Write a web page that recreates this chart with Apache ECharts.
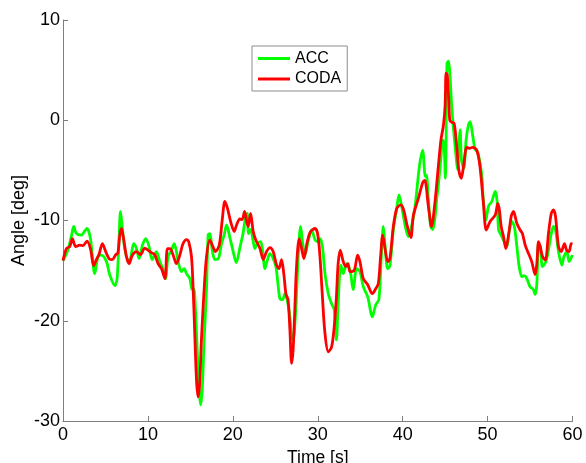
<!DOCTYPE html>
<html>
<head>
<meta charset="utf-8">
<script src="https://cdn.jsdelivr.net/npm/echarts@6/dist/echarts.min.js"></script>
<style>
  html, body { margin: 0; padding: 0; background: #ffffff; }
  #chart { width: 586px; height: 463px; }
</style>
</head>
<body>
<div id="chart"></div>
<script>
// Sensor comparison: angle over time from the accelerometer (ACC) and the CODA motion system
const seriesNames = ['ACC', 'CODA'];

const accTime = [
  0.0, 0.3, 0.6, 1.0, 1.26, 1.58, 2.17, 2.6, 2.83, 3.23, 3.74, 4.13, 4.53, 5.12, 5.5, 6.1, 6.37, 6.6, 6.77, 7.0,
  7.27, 7.67, 7.94, 8.33, 8.65, 8.96, 9.36, 9.75, 10.1, 10.5, 11.0, 11.4, 11.8, 12.07, 12.38, 12.78, 13.09, 13.36, 13.56, 13.95,
  14.26, 14.55, 14.94, 15.2, 15.4, 15.6, 15.84, 16.03, 16.2, 16.4, 16.62, 16.9, 17.09, 17.3, 17.57, 17.9, 18.3, 18.67, 18.98, 19.26,
  19.65, 20.04, 20.4, 20.83, 21.2, 21.54, 21.7, 21.85, 22.1, 22.4, 22.6, 22.87, 23.27, 23.5, 23.78, 24.05, 24.37, 24.75, 25.07, 25.35,
  25.55, 25.86, 26.13, 26.4, 26.72, 26.92, 27.1, 27.43, 27.7, 27.98, 28.25, 28.49, 28.9, 29.28, 29.67, 29.95, 30.26, 30.55, 30.85, 31.24,
  31.63, 31.94, 32.2, 32.4, 32.73, 33.0, 33.4, 33.8, 34.18, 34.58, 34.97, 35.36, 35.88, 36.43, 36.83, 37.2, 37.53, 37.72, 37.92, 38.24,
  38.5, 38.9, 39.3, 39.57, 39.96, 40.36, 40.67, 41.0, 41.46, 41.97, 42.35, 42.67, 42.8, 43.03, 43.3, 43.55, 43.82, 44.0, 44.2, 44.49,
  44.72, 44.88, 45.03, 45.1, 45.22, 45.4, 45.58, 45.78, 46.06, 46.29, 46.45, 46.6, 46.77, 46.92, 47.2, 47.47, 47.74, 47.94, 48.26, 48.53,
  48.85, 49.32, 49.5, 49.8, 50.1, 50.5, 50.9, 51.1, 51.3, 51.5, 51.87, 52.27, 52.5, 52.86, 53.15, 53.45, 53.72, 54.03, 54.3, 54.62,
  55.0, 55.4, 55.6, 55.8, 56.0, 56.2, 56.47, 56.87, 57.17, 57.5, 57.76, 58.0, 58.35, 58.75, 59.0, 59.34, 59.6, 60.0
];
const accAngle = [
  -14.0, -13.5, -12.9, -11.5, -10.6, -11.3, -11.45, -11.0, -10.8, -11.8, -15.3, -13.6, -13.45, -14.1, -15.4, -16.5, -15.8, -11.8, -9.1, -10.8,
  -12.8, -13.9, -13.8, -12.3, -12.8, -13.8, -12.45, -11.8, -12.5, -13.9, -13.1, -14.1, -14.9, -15.8, -13.6, -12.95, -12.3, -13.1, -14.1, -15.1,
  -14.8, -15.3, -15.8, -16.9, -16.8, -18.9, -23.6, -26.9, -28.4, -26.8, -21.9, -16.9, -11.45, -11.3, -12.95, -13.9, -13.8, -12.3, -11.45, -10.45,
  -11.7, -13.1, -14.2, -12.7, -11.3, -9.45, -9.3, -11.3, -10.9, -12.1, -12.8, -12.3, -12.1, -12.95, -14.8, -14.0, -13.3, -13.8, -14.6, -16.6,
  -17.8, -17.9, -17.3, -17.9, -19.6, -21.6, -21.9, -18.6, -13.6, -10.6, -12.4, -13.45, -11.95, -10.95, -11.9, -12.1, -11.8, -12.6, -15.3, -17.3,
  -18.3, -18.9, -21.9, -18.3, -14.45, -15.3, -14.3, -14.95, -16.9, -14.8, -15.1, -16.6, -17.6, -19.6, -18.4, -17.9, -12.8, -10.6, -12.4, -14.8,
  -14.5, -10.95, -8.8, -7.45, -8.95, -10.8, -11.6, -10.8, -8.6, -4.6, -3.0, -5.6, -5.5, -7.95, -10.6, -10.9, -9.6, -7.95, -6.5, -3.95,
  -1.95, -2.4, -5.8, -3.0, 5.7, 5.9, 4.35, 1.35, -1.6, -3.6, -4.9, -2.95, -0.97, -3.95, -4.8, -1.97, -0.47, -0.15, -1.6, -2.9,
  -3.2, -5.5, -8.0, -9.95, -8.6, -8.1, -7.1, -7.9, -10.95, -11.3, -11.95, -12.6, -11.3, -10.1, -10.6, -12.6, -14.6, -15.6, -15.5, -15.8,
  -16.6, -16.9, -17.4, -16.3, -12.3, -12.6, -14.6, -14.1, -12.95, -11.3, -10.6, -10.95, -13.1, -14.45, -13.6, -13.1, -14.1, -13.45
];

const codaTime = [
  0.0, 0.4, 0.8, 1.1, 1.5, 1.97, 2.35, 2.83, 3.23, 3.62, 3.93, 4.24, 4.64, 5.03, 5.42, 5.82, 6.21, 6.45, 6.69, 6.88,
  7.16, 7.47, 7.78, 8.18, 8.65, 9.12, 9.63, 10.0, 10.42, 10.8, 11.2, 11.6, 12.0, 12.3, 12.6, 12.97, 13.36, 13.76, 14.14, 14.55,
  14.8, 15.13, 15.33, 15.5, 15.72, 15.9, 16.1, 16.3, 16.62, 16.9, 17.3, 17.65, 17.96, 18.4, 18.75, 19.06, 19.37, 19.77, 20.16, 20.44,
  20.83, 21.1, 21.38, 21.62, 21.8, 22.09, 22.4, 22.7, 23.2, 23.58, 23.97, 24.37, 24.75, 25.15, 25.43, 25.74, 26.0, 26.25, 26.5, 26.72,
  26.92, 27.1, 27.31, 27.5, 27.82, 28.1, 28.37, 28.77, 29.16, 29.67, 29.98, 30.26, 30.55, 30.85, 31.24, 31.63, 31.94, 32.2, 32.4, 32.65,
  33.0, 33.3, 33.55, 33.8, 34.3, 34.7, 34.97, 35.36, 35.88, 36.43, 36.83, 37.13, 37.4, 37.65, 37.92, 38.24, 38.5, 38.9, 39.3, 39.75,
  40.1, 40.5, 40.96, 41.26, 41.85, 42.37, 42.6, 43.03, 43.4, 43.8, 44.2, 44.5, 44.8, 45.0, 45.11, 45.25, 45.43, 45.55, 45.78, 46.06,
  46.37, 46.6, 46.9, 47.15, 47.55, 47.86, 48.26, 48.73, 49.1, 49.5, 49.85, 50.3, 50.9, 51.2, 51.4, 51.6, 51.87, 52.15, 52.5, 52.78,
  53.05, 53.45, 53.84, 54.1, 54.43, 54.82, 55.2, 55.6, 55.8, 56.0, 56.2, 56.47, 56.8, 57.17, 57.5, 57.76, 58.0, 58.35, 58.67, 59.05,
  59.3, 59.6, 59.85, 60.0
];
const codaAngle = [
  -14.0, -12.8, -12.6, -11.8, -12.6, -12.45, -12.5, -12.05, -12.8, -14.5, -13.9, -13.4, -12.3, -13.1, -13.8, -13.9, -13.4, -13.3, -11.45, -10.8,
  -11.95, -13.6, -14.3, -13.45, -13.1, -13.4, -12.75, -12.95, -13.2, -13.4, -14.3, -14.8, -15.8, -12.8, -12.8, -13.45, -14.3, -13.45, -12.3, -11.9,
  -12.1, -13.6, -16.9, -20.9, -25.9, -27.6, -26.2, -21.9, -16.9, -13.6, -11.95, -12.6, -13.1, -12.45, -9.95, -8.1, -8.8, -10.2, -11.1, -10.45,
  -9.85, -9.9, -9.1, -10.1, -10.6, -9.3, -11.1, -11.95, -12.8, -13.9, -13.1, -12.7, -13.1, -14.45, -14.8, -13.9, -15.3, -17.3, -17.9, -20.9,
  -24.25, -22.9, -18.6, -14.6, -11.8, -12.8, -13.8, -12.1, -11.1, -10.8, -11.3, -13.6, -17.6, -21.25, -23.1, -22.6, -20.6, -17.6, -14.3, -12.95,
  -14.1, -14.6, -14.3, -15.1, -14.95, -13.45, -14.1, -15.8, -16.4, -17.3, -16.8, -16.3, -13.6, -11.45, -12.8, -14.1, -13.8, -10.6, -8.8, -8.45,
  -8.9, -10.4, -11.7, -9.5, -7.8, -6.2, -6.0, -8.6, -10.6, -8.2, -4.6, -2.0, -0.5, 1.5, 4.7, 4.5, 2.0, 0.0, -0.2, -0.3,
  -2.6, -4.9, -5.8, -4.7, -2.7, -2.8, -2.7, -3.0, -4.6, -8.2, -10.95, -10.1, -9.45, -8.3, -9.0, -10.6, -11.6, -12.8, -11.3, -9.6,
  -9.1, -10.3, -10.95, -11.3, -12.45, -13.3, -14.1, -15.4, -14.3, -12.1, -12.6, -13.6, -13.95, -11.3, -9.3, -8.95, -9.6, -12.6, -13.1, -12.3,
  -12.95, -13.1, -12.3, -12.3
];

const xTicks = { min: 0, max: 60, step: 10 };
const yTicks = { min: -30, max: 10, step: 10 };

function pairs(times, values) {
  return times.map((t, i) => [t, values[i]]);
}

const axisGrey = '#7f7f7f';
const fontFamily = '"Liberation Sans", Arial, Helvetica, sans-serif';

const chart = echarts.init(document.getElementById('chart'), null, { renderer: 'canvas' });

chart.setOption({
  animation: false,
  backgroundColor: '#ffffff',
  grid: { left: 63, right: 13.5, top: 20, bottom: 42, containLabel: false, outerBoundsMode: 'none' },
  legend: {
    data: seriesNames,
    orient: 'vertical',
    left: 252,
    top: 46,
    padding: [4.5, 6, 4, 6],
    itemGap: 4.5,
    itemWidth: 32,
    itemHeight: 3,
    icon: 'rect',
    borderColor: '#8c8c8c',
    borderWidth: 1,
    backgroundColor: '#ffffff',
    textStyle: { fontFamily: fontFamily, fontSize: 16, color: '#000000', lineHeight: 16 }
  },
  xAxis: {
    type: 'value',
    min: xTicks.min,
    max: xTicks.max,
    interval: xTicks.step,
    name: 'Time [s]',
    nameLocation: 'middle',
    nameGap: 25,
    nameTextStyle: { fontFamily: fontFamily, fontSize: 17.5, color: '#000000' },
    axisLine: { show: true, onZero: false, lineStyle: { color: axisGrey, width: 1 } },
    axisTick: { show: true, inside: true, length: 5, lineStyle: { color: axisGrey } },
    axisLabel: { margin: 5, fontFamily: fontFamily, fontSize: 18, color: '#000000' },
    splitLine: { show: false }
  },
  yAxis: {
    type: 'value',
    min: yTicks.min,
    max: yTicks.max,
    interval: yTicks.step,
    name: 'Angle [deg]',
    nameLocation: 'middle',
    nameGap: 35,
    nameMoveOverlap: false,
    nameTextStyle: { fontFamily: fontFamily, fontSize: 18, color: '#000000' },
    axisLine: { show: true, onZero: false, lineStyle: { color: axisGrey, width: 1 } },
    axisTick: { show: true, inside: true, length: 5, lineStyle: { color: axisGrey } },
    axisLabel: { margin: 3, fontFamily: fontFamily, fontSize: 18, color: '#000000' },
    splitLine: { show: false }
  },
  series: [
    {
      name: seriesNames[0],
      type: 'line',
      data: pairs(accTime, accAngle),
      showSymbol: false,
      smooth: 0.3,
      color: '#00ff00',
      lineStyle: { width: 2.8, color: '#00ff00' },
      z: 2
    },
    {
      name: seriesNames[1],
      type: 'line',
      data: pairs(codaTime, codaAngle),
      showSymbol: false,
      smooth: 0.3,
      color: '#ff0000',
      lineStyle: { width: 2.8, color: '#ff0000' },
      z: 3
    }
  ]
});
</script>
</body>
</html>
